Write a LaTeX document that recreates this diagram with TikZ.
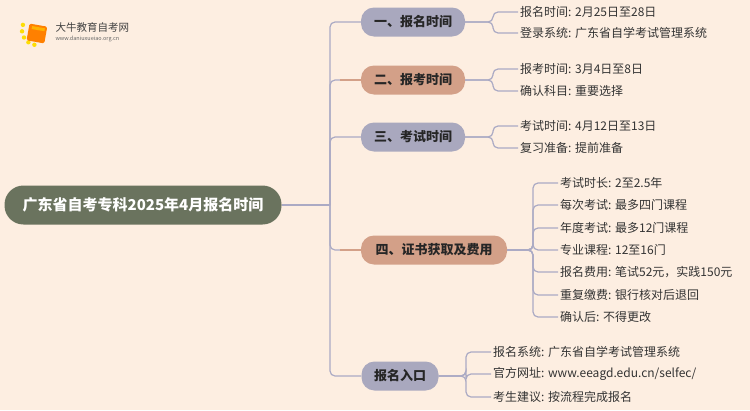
\documentclass[tikz,border=0pt]{standalone}
\usepackage{fontspec}
\setmainfont{Noto Sans CJK SC}
\begin{document}
\begin{tikzpicture}[x=1pt,y=-1pt,
  grey/.style={fill=gnode,draw=none,rounded corners=13pt,minimum height=29pt,font=\fontsize{13}{14}\selectfont\bfseries,text=black!85},
  tan/.style={grey,fill=tnode},
  leaf/.style={anchor=west,inner sep=2pt,font=\fontsize{12}{13}\selectfont,text=black!80},
  conn/.style={draw=lcol,line width=1.2pt,rounded corners=5pt},
  tconn/.style={draw=tnode,line width=1.2pt}]
\definecolor{bg}{HTML}{FDEEE1}
\definecolor{gnode}{HTML}{A9A8BE}
\definecolor{tnode}{HTML}{D3A088}
\definecolor{lcol}{HTML}{ABAAC4}
\definecolor{rootc}{HTML}{6A735E}
\fill[bg] (0,0) rectangle (750,410);
% logo
\foreach \a in {100,125,150,175,200}{\fill[yellow!80!orange] (37,30)++(\a:15) circle (2.2pt);}
\fill[orange,rounded corners=1.5pt,rotate around={-10:(37,33)}] (28,25) rectangle (46,42);
\fill[orange!60!yellow,rotate around={-10:(37,33)}] (31,27) rectangle (44,30);
\node[anchor=west,font=\fontsize{10.5}{11}\selectfont,text=black!75] (lt) at (52,27) {大牛教育自考网};
\node[anchor=west,font=\fontsize{5.5}{6}\selectfont,text=black!60] (lu) at (52,39) {www.daniuxueiao.org.cn};
% root
\node[fill=rootc,text=white,rounded corners=19pt,minimum width=277pt,minimum height=39pt,font=\fontsize{15}{16}\selectfont\bfseries] (root) at (143,205) {广东省自考专科2025年4月报名时间};
\coordinate (tr) at (330,205);
\node[grey,minimum width=104pt] (b1) at (413,22) {一、报名时间};
\node[tan,minimum width=104pt] (b2) at (413,80) {二、报考时间};
\node[grey,minimum width=104pt] (b3) at (413,137) {三、考试时间};
\node[tan,minimum width=146pt] (b4) at (434,250) {四、证书获取及费用};
\node[grey,minimum width=77pt] (b5) at (400,376) {报名入口};
\draw[conn] (root.east) -- (tr);
\foreach \b in {b1,b2,b3,b4,b5}{\draw[conn] (tr) |- (\b.west);}
\draw[tconn] (340,80) -- (b2.west);
\draw[tconn] (340,250) -- (b4.west);
% leaves
\node[leaf] (l11) at (518,12) {报名时间: 2月25日至28日};
\node[leaf] (l12) at (518,33) {登录系统: 广东省自学考试管理系统};
\node[leaf] (l21) at (518,69) {报考时间: 3月4日至8日};
\node[leaf] (l22) at (518,91) {确认科目: 重要选择};
\node[leaf] (l31) at (518,126) {考试时间: 4月12日至13日};
\node[leaf] (l32) at (518,148) {复习准备: 提前准备};
\node[leaf] (l41) at (558,183) {考试时长: 2至2.5年};
\node[leaf] (l42) at (558,205) {每次考试: 最多四门课程};
\node[leaf] (l43) at (558,228) {年度考试: 最多12门课程};
\node[leaf] (l44) at (558,250) {专业课程: 12至16门};
\node[leaf] (l45) at (558,272) {报名费用: 笔试52元，实践150元};
\node[leaf] (l46) at (558,295) {重复缴费: 银行核对后退回};
\node[leaf] (l47) at (558,317) {确认后: 不得更改};
\node[leaf] (l51) at (491,352) {报名系统: 广东省自学考试管理系统};
\node[leaf] (l52) at (491,374) {官方网址: www.eeagd.edu.cn/selfec/};
\node[leaf] (l53) at (491,397) {考生建议: 按流程完成报名};
\foreach \n in {l11,l12}{\draw[conn] (b1.east) -- (493,22) |- (\n.west);}
\foreach \n in {l21,l22}{\draw[conn] (b2.east) -- (493,80) |- (\n.west);}
\foreach \n in {l31,l32}{\draw[conn] (b3.east) -- (493,137) |- (\n.west);}
\foreach \n in {l41,l42,l43,l44,l45,l46,l47}{\draw[conn] (b4.east) -- (533,250) |- (\n.west);}
\foreach \n in {l51,l52,l53}{\draw[conn] (b5.east) -- (466,376) |- (\n.west);}
\end{tikzpicture}
\end{document}
